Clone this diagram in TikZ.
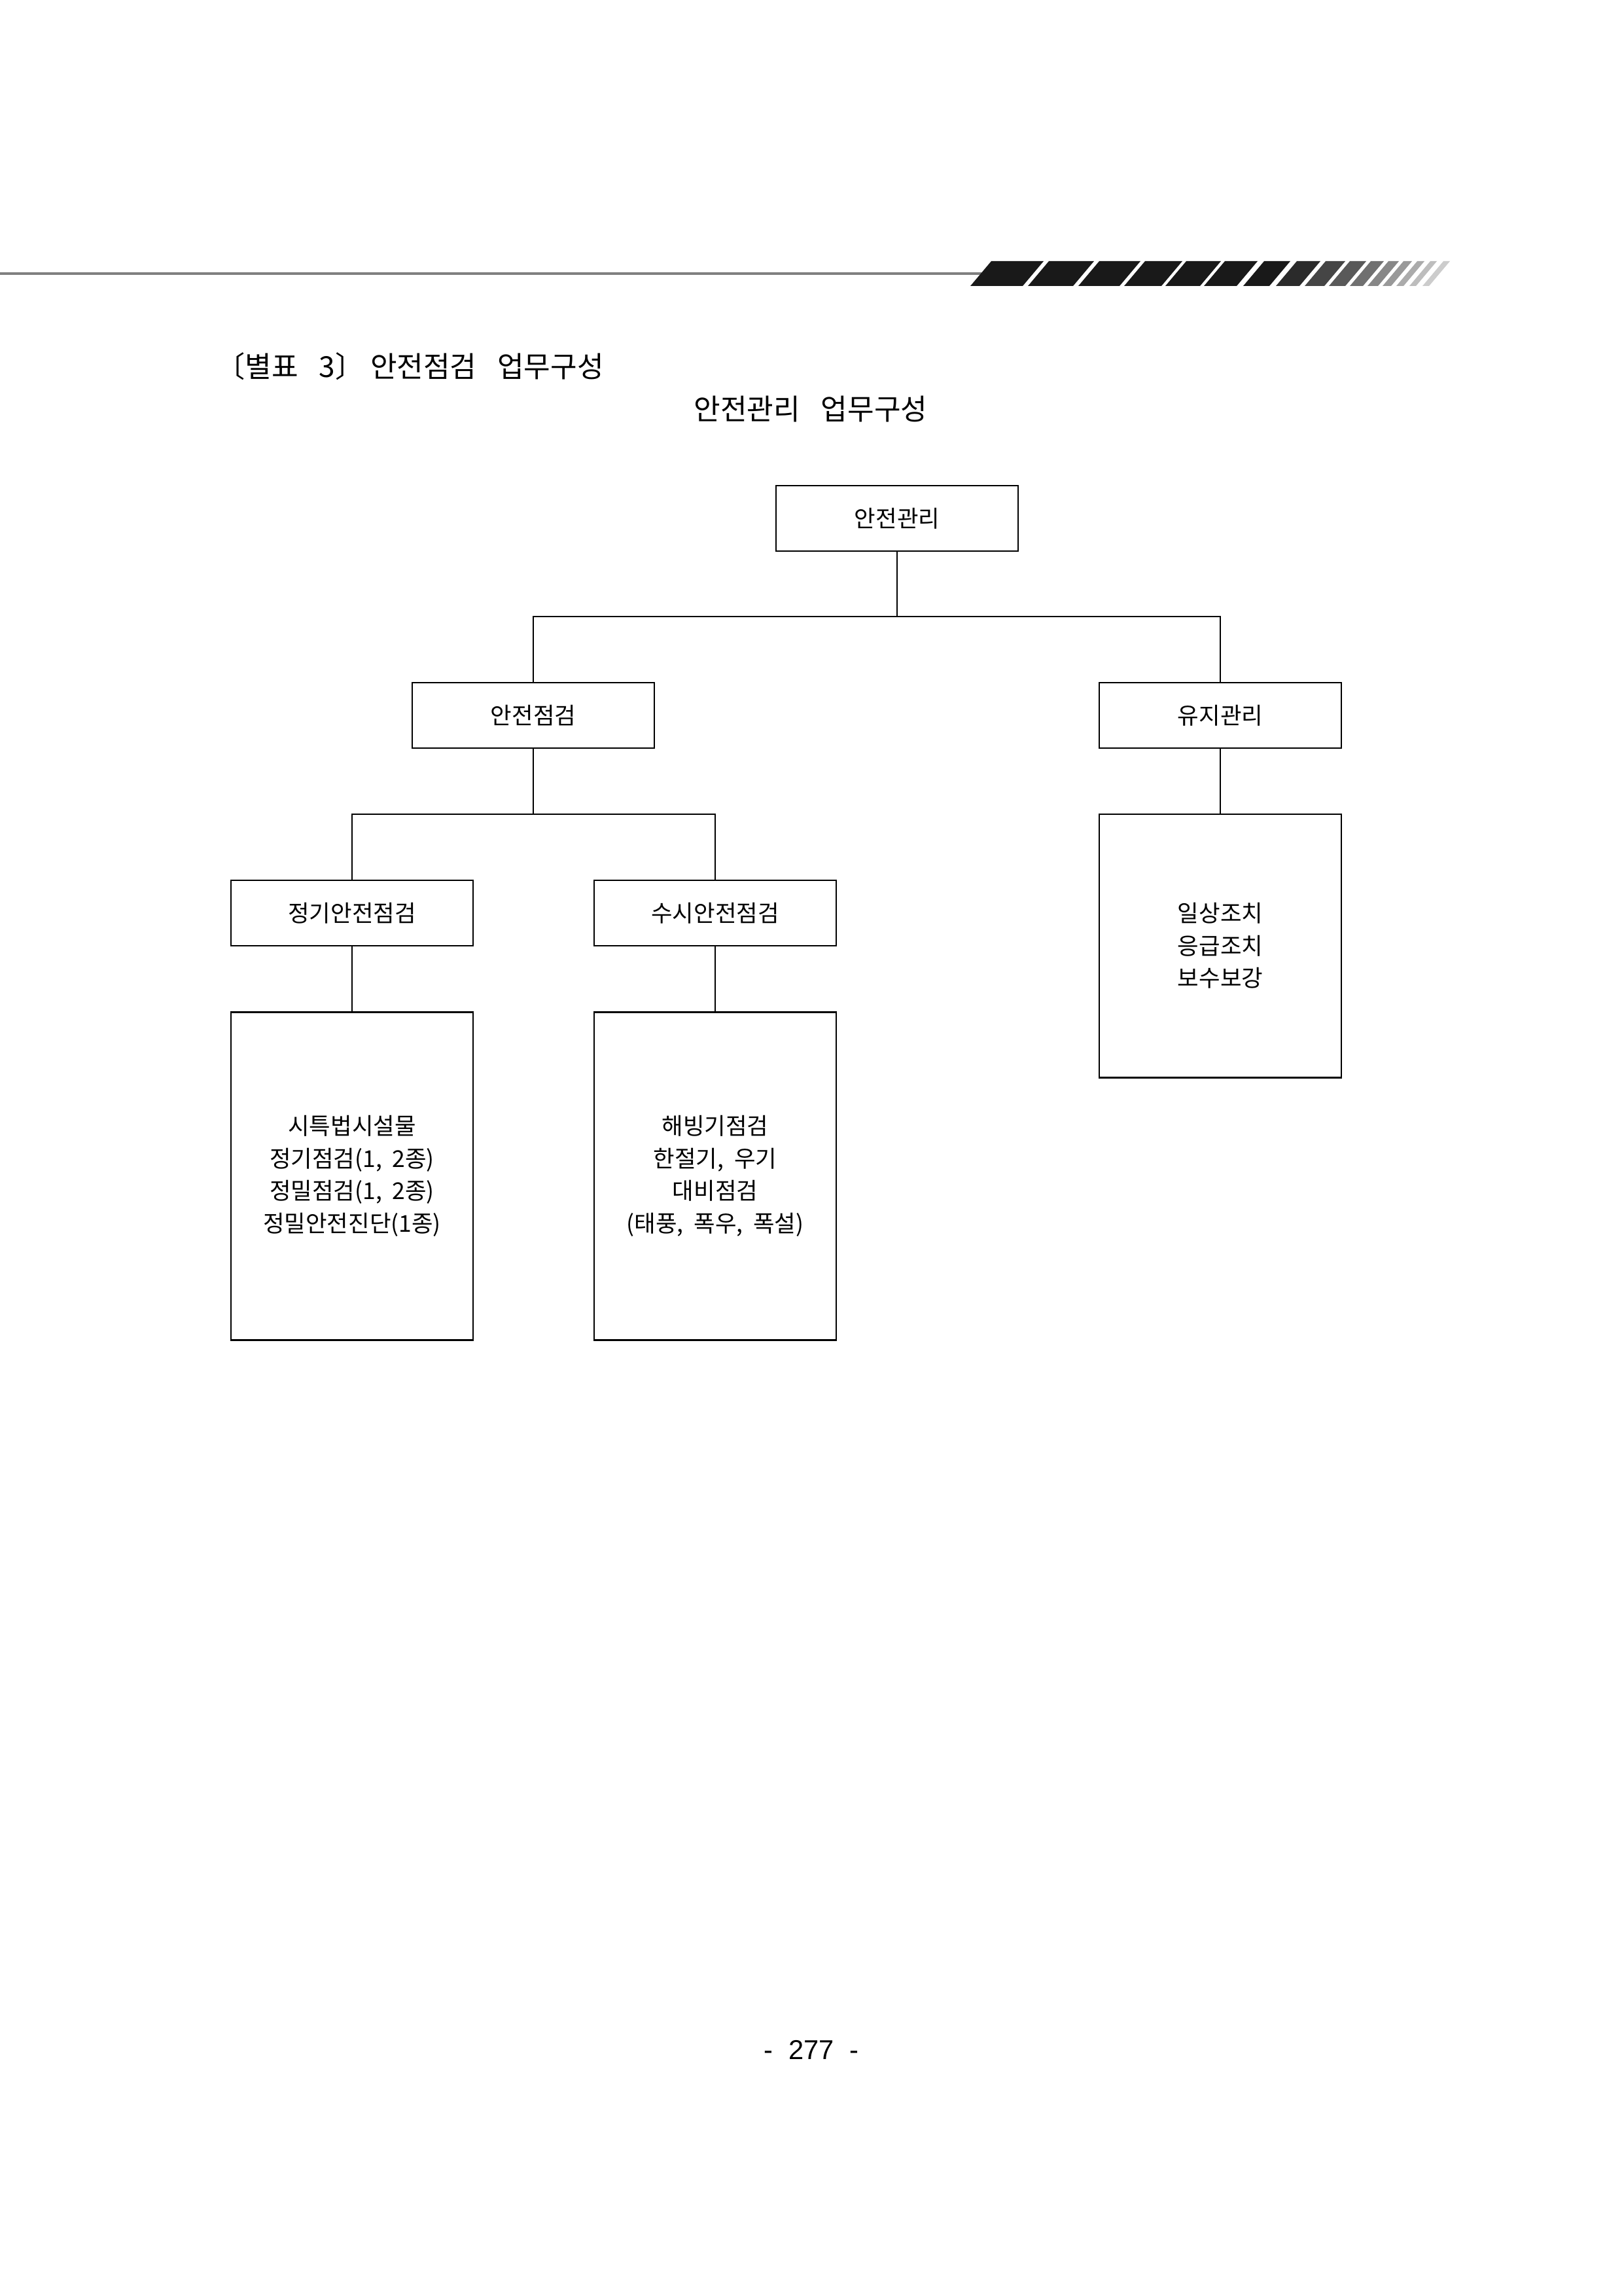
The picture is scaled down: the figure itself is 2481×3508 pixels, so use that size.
\documentclass[tikz,border=0pt]{standalone}
\usepackage{fontspec}
\setmainfont[WordSpace=2.0]{Noto Sans CJK KR}
\newfontfamily\krtitle[WordSpace=3.2,RawFeature=+halt]{Noto Sans CJK KR}
\newfontfamily\pagefont{Liberation Sans}
\begin{document}
\begin{tikzpicture}[x=0.24pt,y=-0.24pt,
  box/.style={draw, line width=0.7pt, inner sep=0pt, minimum width=88.8pt, align=center, font=\fontsize{8.5}{11.9}\selectfont},
  smallbox/.style={box, minimum height=24pt},
  conn/.style={line width=0.6pt},
  titletext/.style={inner sep=0pt, font=\krtitle\fontsize{10.6}{12}\selectfont}]
\fill[white] (0,0) rectangle (2481,3508);
\path[use as bounding box] (0,0) rectangle (2481,3508);

% header rule and stripes
\draw[line width=0.9pt, black!50] (0,418) -- (1500,418);
\foreach \a/\b/\c in {1515/1595/90, 1603/1672/90, 1680/1743/90, 1750/1807/90, 1813/1866/90, 1872/1922/90, 1932/1972/90, 1982/2018/83, 2026/2056/73, 2063/2088/65, 2095/2115/56, 2122/2138/47, 2145/2158/40, 2166/2177/33, 2186/2196/26, 2206/2216/20}
  \fill[black!\c] (\a,399) -- (\b,399) -- (\b-32,437) -- (\a-32,437) -- cycle;

% titles
\node[titletext, anchor=west] (title) at (352,560) {〔별표 3〕 안전점검 업무구성};
\node[titletext] (sub) at (1239,625) {안전관리 업무구성};

% boxes
\node[smallbox] (root) at (1371,792) {안전관리};
\node[smallbox] (insp) at (815,1093) {안전점검};
\node[smallbox] (maint) at (1865,1093) {유지관리};
\node[smallbox] (reg) at (538,1395) {정기안전점검};
\node[smallbox] (occ) at (1093,1395) {수시안전점검};
\node[box, minimum height=120.24pt] (regd) at (538,1797) {시특법시설물\\정기점검(1, 2종)\\정밀점검(1, 2종)\\정밀안전진단(1종)};
\node[box, minimum height=120.24pt] (occd) at (1093,1797) {해빙기점검\\한절기, 우기\\대비점검\\(태풍, 폭우, 폭설)};
\node[box, minimum height=96.5pt] (maintd) at (1865,1445) {일상조치\\응급조치\\보수보강};

% connectors
\coordinate (j1) at (1371,942);
\draw[conn] (root.south) -- (j1);
\draw[conn] (insp.north) |- (j1) -| (maint.north);
\coordinate (j2) at (815,1244);
\draw[conn] (insp.south) -- (j2);
\draw[conn] (reg.north) |- (j2) -| (occ.north);
\draw[conn] (reg.south) -- (regd.north);
\draw[conn] (occ.south) -- (occd.north);
\draw[conn] (maint.south) -- (maintd.north);

% page number
\node[inner sep=0pt, font=\pagefont\fontsize{10}{12}\selectfont] (page) at (1240,3132) {-\hspace{0.3em} 277 \hspace{0.3em}-};
\end{tikzpicture}
\end{document}
